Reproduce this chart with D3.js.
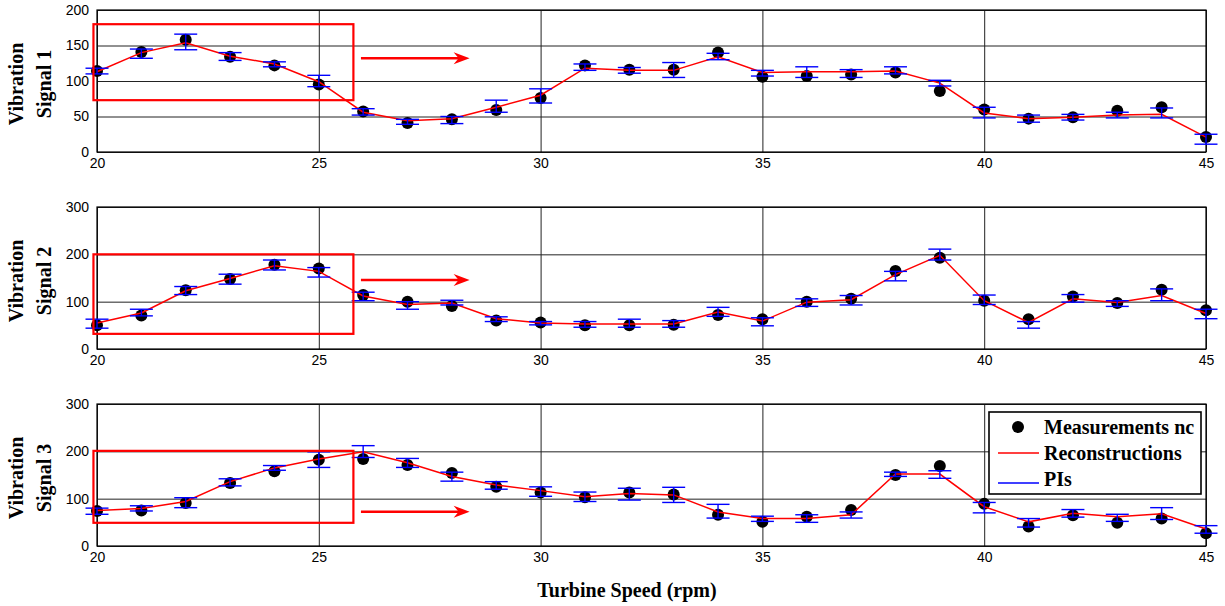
<!DOCTYPE html>
<html>
<head>
<meta charset="utf-8">
<script src="https://cdn.jsdelivr.net/npm/d3@7"></script>
<style>
  body { margin: 0; background: #fff; }
  svg { display: block; }
  .tick text { font-family: "Liberation Sans", Arial, sans-serif; font-size: 14px; fill: #000; }
  .lbl { font-family: "Liberation Serif", "Times New Roman", serif; font-size: 20px; font-weight: bold; fill: #000; }
</style>
</head>
<body>
<div id="chart"></div>
<script>
// turbine speed (rpm)
var speeds = [20,21,22,23,24,25,26,27,28,29,30,31,32,33,34,35,36,37,38,39,40,41,42,43,44,45];
var xTicks = [20,25,30,35,40,45];

// signal 1
var meas1  = [114,141,158,134,122,95,57,41,46,59,76,122,116,116,140,106,107,109,112,86,60,47,49,58,63,21];
var recon1 = [113,140,154,135,124,99,56,44,47,63,80,118,115,115,134,112,113,113,114,97,55,47,49,52,53,21];
var piLo1  = [110,132,144,129,120,92,52,39,40,56,69,115,111,105,130,107,105,105,110,93,48,42,45,48,48,11];
var piHi1  = [118,145,166,140,127,108,61,46,50,73,89,124,119,126,139,115,120,116,120,101,63,52,53,56,62,25];
var yTicks1 = [0,50,100,150,200];

// signal 2
var meas2  = [50,71,124,148,178,170,114,100,91,60,56,50,50,51,72,63,100,106,165,193,102,63,111,97,125,82];
var recon2 = [55,76,123,149,176,164,112,94,97,64,55,53,53,53,78,59,99,104,157,198,102,56,106,98,113,75];
var piLo2  = [44,70,115,137,167,152,102,84,93,58,51,46,46,46,69,49,90,93,144,188,94,44,99,90,102,64];
var piHi2  = [63,84,132,158,188,172,120,100,103,68,58,58,63,60,88,66,106,113,164,211,114,58,115,102,127,84];
var yTicks2 = [0,100,200,300];

// signal 3
var meas3  = [74,75,91,133,158,182,184,171,154,125,113,103,113,109,66,51,62,76,150,169,89,41,65,49,58,27];
var recon3 = [75,79,94,136,165,184,199,176,147,129,117,104,111,108,72,58,58,66,152,152,83,51,69,62,68,36];
var piLo3  = [67,74,81,127,160,166,187,166,137,120,105,94,97,92,59,52,50,59,147,143,70,40,61,52,56,27];
var piHi3  = [80,85,102,142,170,199,212,185,156,136,125,114,122,124,88,63,66,72,156,159,92,58,77,67,81,43];
var yTicks3 = [0,100,200,300];

var panelNames = ['Signal 1','Signal 2','Signal 3'];
var yMaxes = [200,300,300];

// highlight boxes and arrows (data units)
var boxX = [19.92, 25.78];
var boxY = [[73,180],[32,200],[49,201]];
var arrowX = [25.95, 28.4];
var arrowY = [132,146,72.5];

var W = 1225, H = 606;
var left = 97, right = 1206, ph = 142;
var tops = [10,207,404];

var svg = d3.select('#chart').append('svg').attr('width', W).attr('height', H);
svg.append('rect').attr('width', W).attr('height', H).attr('fill', '#fff');

var x = d3.scaleLinear().domain([20,45]).range([left,right]);

var panels = [
  {meas: meas1, recon: recon1, lo: piLo1, hi: piHi1, yTicks: yTicks1},
  {meas: meas2, recon: recon2, lo: piLo2, hi: piHi2, yTicks: yTicks2},
  {meas: meas3, recon: recon3, lo: piLo3, hi: piHi3, yTicks: yTicks3}
];

panels.forEach(function(p, k) {
  var top = tops[k];
  var y = d3.scaleLinear().domain([0, yMaxes[k]]).range([top+ph, top]);
  var g = svg.append('g');

  // grid + ticks
  var xa = g.append('g').attr('transform', 'translate(0,' + (top+ph) + ')')
    .call(d3.axisBottom(x).tickValues(xTicks).tickSize(-ph).tickPadding(6).tickFormat(d3.format('d')));
  var ya = g.append('g').attr('transform', 'translate(' + left + ',0)')
    .call(d3.axisLeft(y).tickValues(p.yTicks).tickSize(-(right-left)).tickPadding(8).tickFormat(d3.format('d')));
  [xa, ya].forEach(function(a) {
    a.select('.domain').remove();
    a.selectAll('.tick line').attr('stroke', '#222').attr('stroke-width', 1);
  });

  g.append('rect').attr('x', left).attr('y', top).attr('width', right-left).attr('height', ph)
    .attr('fill', 'none').attr('stroke', '#000').attr('stroke-width', 1.2);

  // measurements
  g.selectAll('circle.m').data(speeds).enter().append('circle')
    .attr('cx', function(d) { return x(d); })
    .attr('cy', function(d, i) { return y(p.meas[i]); })
    .attr('r', 6).attr('fill', '#000');

  // reconstructions
  var line = d3.line().x(function(d) { return x(d); }).y(function(d, i) { return y(p.recon[i]); });
  g.append('path').datum(speeds).attr('d', line)
    .attr('fill', 'none').attr('stroke', '#ff0000').attr('stroke-width', 1.5);

  // PIs
  var pi = g.selectAll('g.pi').data(speeds).enter().append('g').attr('stroke', '#0000ff').attr('stroke-width', 1.4);
  pi.append('line')
    .attr('x1', function(d) { return x(d); }).attr('x2', function(d) { return x(d); })
    .attr('y1', function(d, i) { return y(p.lo[i]); }).attr('y2', function(d, i) { return y(p.hi[i]); });
  pi.append('line')
    .attr('x1', function(d) { return x(d) - 11.5; }).attr('x2', function(d) { return x(d) + 11.5; })
    .attr('y1', function(d, i) { return y(p.lo[i]); }).attr('y2', function(d, i) { return y(p.lo[i]); });
  pi.append('line')
    .attr('x1', function(d) { return x(d) - 11.5; }).attr('x2', function(d) { return x(d) + 11.5; })
    .attr('y1', function(d, i) { return y(p.hi[i]); }).attr('y2', function(d, i) { return y(p.hi[i]); });

  // red highlight box
  g.append('rect')
    .attr('x', x(boxX[0])).attr('y', y(boxY[k][1]))
    .attr('width', x(boxX[1]) - x(boxX[0])).attr('height', y(boxY[k][0]) - y(boxY[k][1]))
    .attr('fill', 'none').attr('stroke', '#ff0000').attr('stroke-width', 2.2);

  // arrow
  var ax0 = x(arrowX[0]), ax1 = x(arrowX[1]), ay = y(arrowY[k]);
  g.append('line').attr('x1', ax0).attr('x2', ax1 - 10).attr('y1', ay).attr('y2', ay)
    .attr('stroke', '#ff0000').attr('stroke-width', 2.5);
  g.append('path')
    .attr('d', 'M' + ax1 + ',' + ay + ' L' + (ax1-16) + ',' + (ay-6) + ' L' + (ax1-11) + ',' + ay + ' L' + (ax1-16) + ',' + (ay+6) + ' Z')
    .attr('fill', '#ff0000');

  // y label
  var cy = top + ph/2 + 3;
  g.append('text').attr('class', 'lbl').attr('text-anchor', 'middle')
    .attr('transform', 'translate(23,' + cy + ') rotate(-90)').text('Vibration');
  g.append('text').attr('class', 'lbl').attr('text-anchor', 'middle')
    .attr('transform', 'translate(51,' + cy + ') rotate(-90)').text(panelNames[k]);
});

// x label
svg.append('text').attr('class', 'lbl').attr('text-anchor', 'middle')
  .attr('x', 627).attr('y', 597).text('Turbine Speed (rpm)');

// legend
var lg = svg.append('g');
lg.append('rect').attr('x', 989).attr('y', 412).attr('width', 212).attr('height', 82)
  .attr('fill', '#fff').attr('stroke', '#000').attr('stroke-width', 1.6);
lg.append('circle').attr('cx', 1018).attr('cy', 427).attr('r', 6).attr('fill', '#000');
lg.append('line').attr('x1', 998).attr('x2', 1039).attr('y1', 453).attr('y2', 453)
  .attr('stroke', '#ff0000').attr('stroke-width', 1.5);
lg.append('line').attr('x1', 998).attr('x2', 1039).attr('y1', 483).attr('y2', 483)
  .attr('stroke', '#0000ff').attr('stroke-width', 1.5);
var legendNames = ['Measurements nc','Reconstructions','PIs'];
legendNames.forEach(function(t, i) {
  lg.append('text').attr('class', 'lbl').attr('x', 1044).attr('y', 434 + i*26).text(t);
});
</script>
</body>
</html>
